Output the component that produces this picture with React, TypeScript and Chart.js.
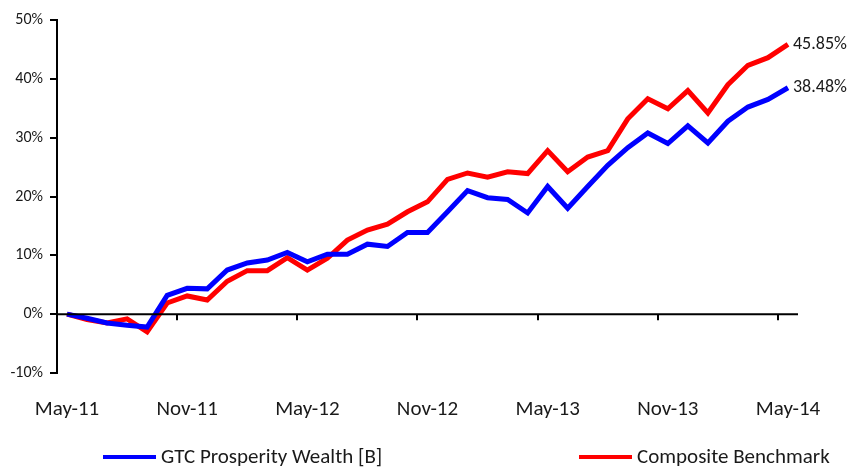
import React, { useEffect, useRef } from "react";
import { Chart, registerables } from "chart.js";

Chart.register(...registerables);

const months = [
  "May-11","Jun-11","Jul-11","Aug-11","Sep-11","Oct-11",
  "Nov-11","Dec-11","Jan-12","Feb-12","Mar-12","Apr-12",
  "May-12","Jun-12","Jul-12","Aug-12","Sep-12","Oct-12",
  "Nov-12","Dec-12","Jan-13","Feb-13","Mar-13","Apr-13",
  "May-13","Jun-13","Jul-13","Aug-13","Sep-13","Oct-13",
  "Nov-13","Dec-13","Jan-14","Feb-14","Mar-14","Apr-14",
  "May-14",
];

const gtcWealth = [
  0, -0.7, -1.5, -1.9, -2.2, 3.2, 4.4, 4.3, 7.5, 8.7, 9.2, 10.5,
  8.9, 10.2, 10.2, 11.9, 11.5, 13.9, 13.9, 17.4, 21.0, 19.8, 19.5, 17.2,
  21.7, 18.0, 21.7, 25.3, 28.3, 30.8, 29.0, 32.0, 29.1, 32.8, 35.2, 36.5,
  38.48,
];

const benchmark = [
  0, -0.9, -1.5, -0.8, -3.0, 1.9, 3.1, 2.4, 5.6, 7.4, 7.4, 9.6,
  7.5, 9.5, 12.6, 14.3, 15.3, 17.4, 19.1, 22.9, 24.0, 23.3, 24.2, 23.9,
  27.8, 24.2, 26.7, 27.8, 33.2, 36.6, 34.9, 38.0, 34.2, 39.0, 42.3, 43.6,
  45.85,
];

const seriesNames = ["GTC Prosperity Wealth [B]", "Composite Benchmark"];
const seriesColors = ["#0000FF", "#FF0000"];
const endLabels = ["38.48%", "45.85%"];

const FONT = "Carlito, Calibri, Lato, sans-serif";
const TEXT = "#1a1a1a";

const overlayPlugin = {
  id: "overlay",
  afterDatasetsDraw(chart: any) {
    const ctx = chart.ctx;
    const x = chart.scales.x;
    const y = chart.scales.y;
    const area = chart.chartArea;
    const y0 = y.getPixelForValue(0);
    ctx.save();
    ctx.strokeStyle = "#000";
    ctx.lineWidth = 2;
    ctx.beginPath();
    ctx.moveTo(area.left, y0);
    ctx.lineTo(area.right, y0);
    ctx.stroke();
    const half = (x.getPixelForValue(1) - x.getPixelForValue(0)) / 2;
    for (let i = 6; i < months.length; i += 6) {
      const px = Math.round(x.getPixelForValue(i) - half);
      ctx.beginPath();
      ctx.moveTo(px, y0);
      ctx.lineTo(px, y0 + 6);
      ctx.stroke();
    }
    ctx.restore();
  },
  afterDraw(chart: any) {
    const ctx = chart.ctx;
    ctx.save();
    ctx.fillStyle = TEXT;
    ctx.font = `18px ${FONT}`;
    ctx.textBaseline = "middle";
    ctx.textAlign = "left";
    chart.data.datasets.forEach((ds: any, i: number) => {
      const meta = chart.getDatasetMeta(i);
      const last = meta.data[meta.data.length - 1];
      ctx.fillText(endLabels[i], last.x + 5, last.y);
    });
    const legendPos = [103, 579];
    const ly = 457;
    ctx.font = `21px ${FONT}`;
    seriesNames.forEach((name, i) => {
      ctx.strokeStyle = seriesColors[i];
      ctx.lineWidth = 4;
      ctx.beginPath();
      ctx.moveTo(legendPos[i], ly);
      ctx.lineTo(legendPos[i] + 53, ly);
      ctx.stroke();
      ctx.fillStyle = TEXT;
      ctx.fillText(name, legendPos[i] + 58, ly + 1);
    });
    ctx.restore();
  },
};

export default function App() {
  const ref = useRef<HTMLCanvasElement | null>(null);
  useEffect(() => {
    if (!ref.current) return;
    const chart = new Chart(ref.current, {
      type: "line",
      data: {
        labels: months,
        datasets: [
          {
            label: seriesNames[0],
            data: gtcWealth,
            borderColor: seriesColors[0],
            backgroundColor: seriesColors[0],
            borderWidth: 5,
            pointRadius: 0,
            tension: 0,
          },
          {
            label: seriesNames[1],
            data: benchmark,
            borderColor: seriesColors[1],
            backgroundColor: seriesColors[1],
            borderWidth: 5,
            pointRadius: 0,
            tension: 0,
          },
        ],
      },
      options: {
        animation: false,
        responsive: false,
        maintainAspectRatio: false,
        layout: { padding: { left: 0, right: 49, top: 20, bottom: 0 } },
        plugins: {
          legend: { display: false },
          tooltip: { enabled: false },
        },
        scales: {
          x: {
            type: "category",
            offset: true,
            grid: { display: false, drawTicks: false },
            border: { display: false },
            ticks: {
              autoSkip: false,
              maxRotation: 0,
              padding: 24,
              color: TEXT,
              font: { family: FONT, size: 21 },
              callback: (_v: any, i: number) => (i % 6 === 0 ? months[i] : null),
            },
            afterFit: (s: any) => {
              s.height = 97;
            },
          },
          y: {
            min: -10,
            max: 50,
            grid: {
              drawOnChartArea: false,
              drawTicks: true,
              tickLength: 7,
              color: "#000",
              lineWidth: 2,
            },
            border: { display: true, color: "#000", width: 2 },
            ticks: {
              stepSize: 10,
              padding: 7,
              color: TEXT,
              font: { family: FONT, size: 16 },
              callback: (v: any) => `${v}%`,
            },
            afterFit: (s: any) => {
              s.width = 57;
            },
          },
        },
      },
      plugins: [overlayPlugin],
    });
    return () => chart.destroy();
  }, []);
  return (
    <div style={{ position: "fixed", left: 0, top: 0, width: 847, height: 470, background: "#fff" }}>
      <canvas ref={ref} width={847} height={470} style={{ display: "block" }} />
    </div>
  );
}
